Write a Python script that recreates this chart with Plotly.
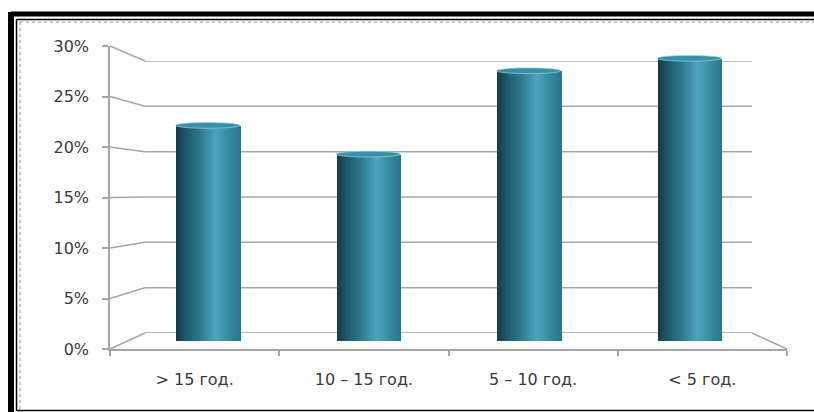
import plotly.graph_objects as go

# Share of staff by length of service
categories = ["> 15 год.", "10 – 15 год.", "5 – 10 год.", "< 5 год."]
values = [22.5, 19.5, 28.2, 29.5]
tick_values = [0, 5, 10, 15, 20, 25, 30]
tick_labels = ["0%", "5%", "10%", "15%", "20%", "25%", "30%"]

W, H = 814, 412
FONT = "DejaVu Sans"
TXT = "#3a3a3a"
GRID = "#a6a6a6"


def px_x(p):
    return p / W


def px_y(p):
    return 1 - p / H


# Pixel geometry of the pseudo-3D box
FRONT_X0, FRONT_X1 = 110, 787     # front floor edge
BACK_X0, BACK_X1 = 145, 752       # back wall
FRONT_Y0, FRONT_Y30 = 349, 46     # front axis 0% / 30%
BACK_Y0, BACK_Y30 = 333, 61       # back wall 0% / 30%
MID_Y0, MID_Y30 = 341, 53.5       # depth plane of the cylinders
YMAX = 30

front_dom = [px_y(FRONT_Y0), px_y(FRONT_Y30)]
back_dom = [px_y(BACK_Y0), px_y(BACK_Y30)]


def front_y(v):
    return front_dom[0] + v / YMAX * (front_dom[1] - front_dom[0])


def back_y(v):
    return back_dom[0] + v / YMAX * (back_dom[1] - back_dom[0])


fig = go.Figure()

# invisible traces that define the back wall and front category axis
fig.add_trace(go.Scatter(x=[0, 1], y=[0, YMAX], mode="none", xaxis="x", yaxis="y",
                         hoverinfo="skip", showlegend=False))
fig.add_trace(go.Scatter(x=categories, y=values, mode="none", xaxis="x2", yaxis="y2",
                         hoverinfo="skip", showlegend=False))

# cylinders: vertical strips with a cylindrical shading profile
shade_stops = [
    (0.00, (20, 58, 70)),
    (0.15, (30, 88, 105)),
    (0.35, (42, 118, 138)),
    (0.62, (76, 164, 188)),
    (0.82, (54, 139, 161)),
    (1.00, (40, 118, 140)),
]


def shade(t):
    for (t0, c0), (t1, c1) in zip(shade_stops[:-1], shade_stops[1:]):
        if t0 <= t <= t1:
            f = (t - t0) / (t1 - t0)
            c = [round(a + (b - a) * f) for a, b in zip(c0, c1)]
            return "rgb({},{},{})".format(*c)
    return "rgb({},{},{})".format(*shade_stops[-1][1])


BAR_W = 0.4
N = 32
CAP = 0.3  # half-height of the elliptical caps, in percent units
sw = BAR_W / N
for k in range(N):
    tc = (k + 0.5) / N
    s = max(0.0, 1 - (2 * tc - 1) ** 2) ** 0.5
    base = -CAP * s
    fig.add_trace(go.Bar(
        x=categories,
        y=[v - base for v in values],
        base=[base] * len(values),
        offset=-BAR_W / 2 + k * sw,
        width=sw * 1.08,
        marker=dict(color=shade(tc), line=dict(width=0)),
        xaxis="x3", yaxis="y3",
        hoverinfo="skip", showlegend=False,
    ))

shapes = []

# back wall gridlines
for v in tick_values:
    shapes.append(dict(type="line", xref="paper", yref="y", layer="below",
                       x0=px_x(BACK_X0), x1=px_x(BACK_X1), y0=v, y1=v,
                       line=dict(color=GRID, width=1.5)))
# left connectors from the front axis ticks to the back wall gridlines
for v in tick_values:
    shapes.append(dict(type="line", xref="paper", yref="paper", layer="below",
                       x0=px_x(FRONT_X0), y0=front_y(v), x1=px_x(BACK_X0), y1=back_y(v),
                       line=dict(color=GRID, width=1.5)))
# right edge of the floor
shapes.append(dict(type="line", xref="paper", yref="paper", layer="below",
                   x0=px_x(BACK_X1), y0=back_y(0), x1=px_x(FRONT_X1), y1=front_y(0),
                   line=dict(color=GRID, width=1.5)))

# top caps of the cylinders
for i, v in enumerate(values):
    shapes.append(dict(type="circle", xref="x3", yref="y3", layer="above",
                       x0=i - BAR_W / 2, x1=i + BAR_W / 2, y0=v - CAP, y1=v + CAP,
                       fillcolor="#3790a8", line=dict(color="rgba(160,208,220,0.7)", width=1)))

# outer frame (right and bottom edges lie outside the page)
frame = [
    # thick outer border
    (11, 14, 814, 14, "black", 5, "solid"),
    (11, 12, 11, 412, "black", 6, "solid"),
    # thin inner border
    (16.5, 19.5, 814, 19.5, "black", 1.5, "solid"),
    (16.5, 19.5, 16.5, 410.5, "black", 1.5, "solid"),
    (16.5, 410.5, 814, 410.5, "black", 1.5, "solid"),
    # light dotted chart-area border
    (20, 22, 814, 22, "#b8b8b8", 1.5, "dot"),
    (20, 22, 20, 409.5, "#b8b8b8", 1.5, "dot"),
]
for x0, y0, x1, y1, col, wd, dash in frame:
    shapes.append(dict(type="line", xref="paper", yref="paper", layer="above",
                       x0=px_x(x0), y0=px_y(y0), x1=px_x(x1), y1=px_y(y1),
                       line=dict(color=col, width=wd, dash=dash)))

fig.update_layout(
    width=W, height=H,
    margin=dict(l=0, r=0, t=0, b=0, pad=0, autoexpand=False),
    paper_bgcolor="white",
    plot_bgcolor="rgba(0,0,0,0)",
    barmode="overlay",
    bargap=0,
    showlegend=False,
    font=dict(family=FONT, size=16, color=TXT),
    shapes=shapes,
    # back wall
    xaxis=dict(domain=[px_x(BACK_X0), px_x(BACK_X1)], range=[0, 1], visible=False,
               automargin=False),
    yaxis=dict(domain=back_dom, range=[0, YMAX], anchor="x", visible=False,
               automargin=False),
    # front value axis and category axis
    xaxis2=dict(domain=[px_x(FRONT_X0), px_x(FRONT_X1)], anchor="y2", type="category",
                categoryorder="array", categoryarray=categories, range=[-0.5, 3.5],
                showline=True, linecolor=GRID, linewidth=1.5, showgrid=False,
                ticks="outside", ticklen=5, tickcolor=GRID, tickwidth=1.5,
                tickson="boundaries", ticklabelstandoff=15, automargin=False,
                tickfont=dict(family=FONT, size=16, color=TXT)),
    yaxis2=dict(domain=front_dom, anchor="x2", range=[0, YMAX],
                tickvals=tick_values, ticktext=tick_labels,
                showline=True, linecolor=GRID, linewidth=1.5, showgrid=False, zeroline=False,
                ticks="outside", ticklen=6, tickcolor=GRID, tickwidth=1.5,
                ticklabelstandoff=10, automargin=False,
                tickfont=dict(family=FONT, size=16, color=TXT)),
    # depth plane of the cylinders
    xaxis3=dict(domain=[px_x((FRONT_X0 + BACK_X0) / 2), px_x((FRONT_X1 + BACK_X1) / 2)],
                anchor="y3", type="category", categoryorder="array",
                categoryarray=categories, range=[-0.5, 3.5], visible=False,
                automargin=False),
    yaxis3=dict(domain=[px_y(MID_Y0), px_y(MID_Y30)], anchor="x3", range=[0, YMAX],
                visible=False, automargin=False),
)

# let the 814x412 figure sit flush in the window without scrollbars
page_css = ("document.documentElement.style.margin='0';"
            "document.documentElement.style.overflow='hidden';"
            "document.body.style.margin='0';"
            "document.body.style.overflow='hidden';")
fig.write_html("out.html", config={"displayModeBar": False}, post_script=page_css)
